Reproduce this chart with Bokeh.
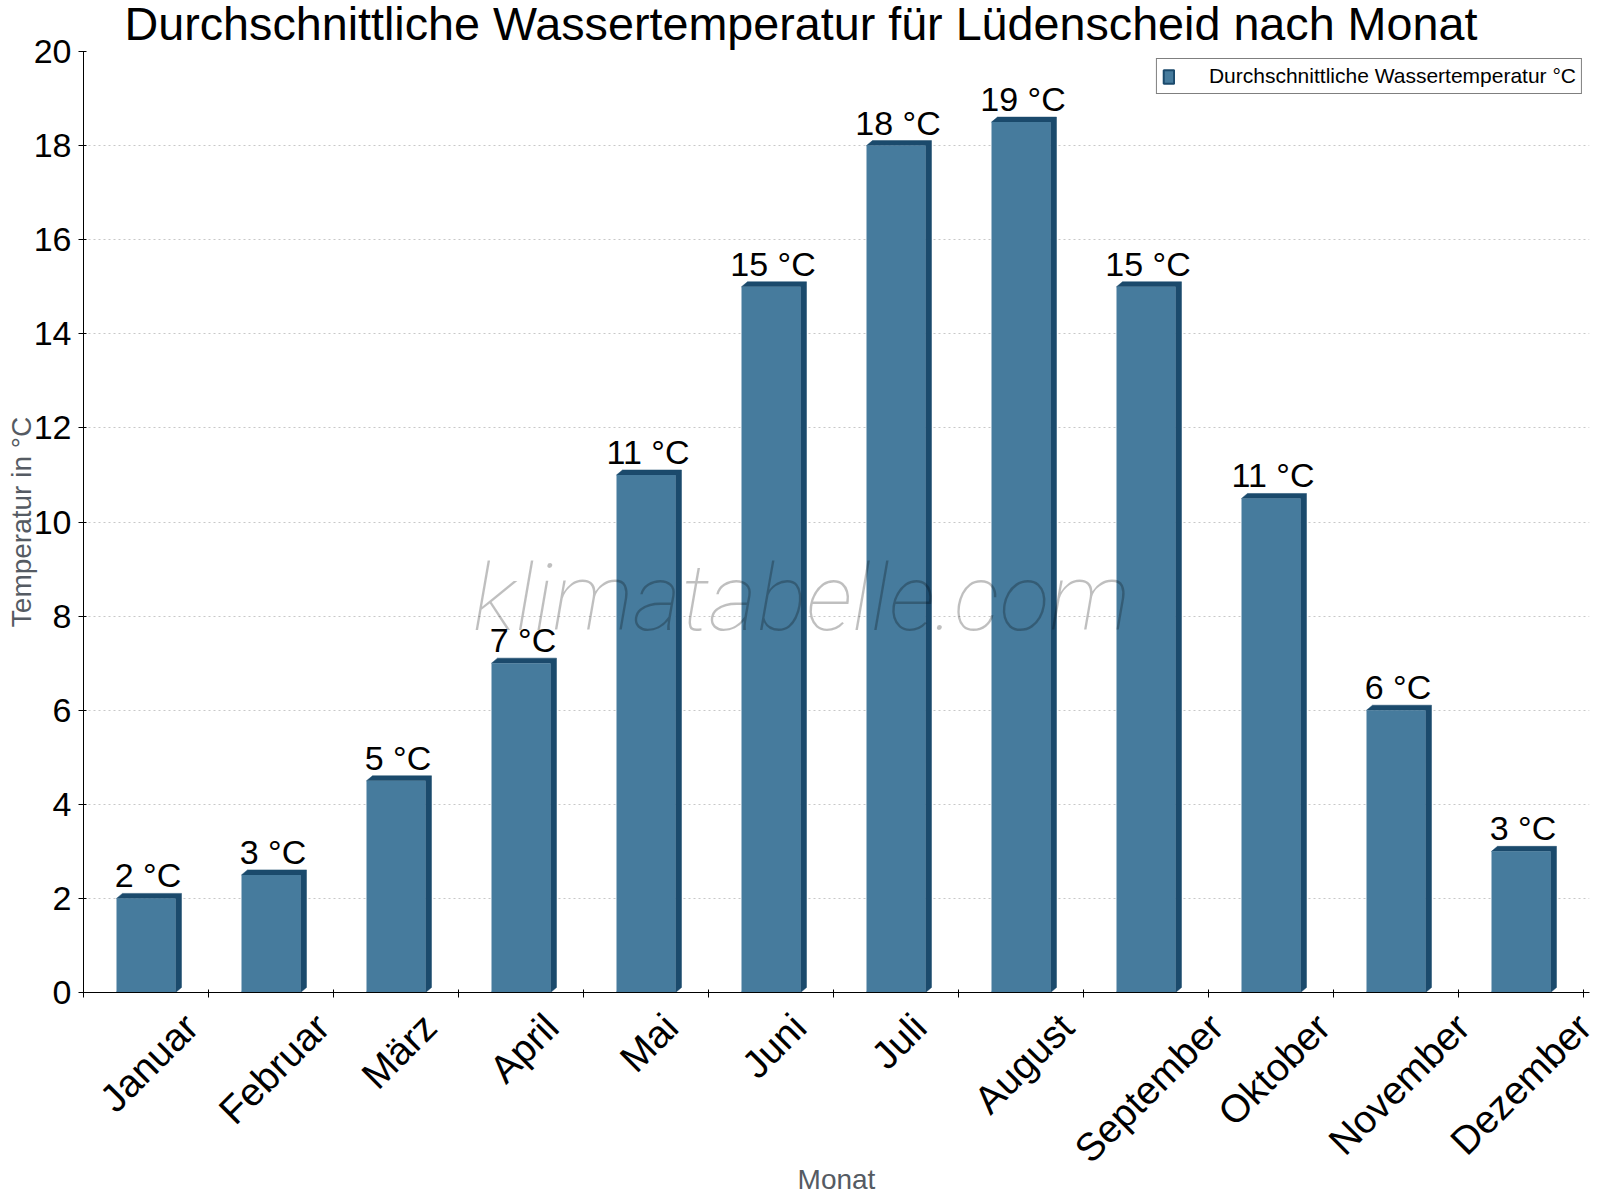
import math
from bokeh.plotting import figure
from bokeh.models import (ColumnDataSource, FixedTicker, Range1d, Label, Legend,
                          LegendItem)
from bokeh.embed import file_html
from bokeh.resources import INLINE
from bokeh.core.properties import value

# ---------------- data ----------------
months = ["Januar", "Februar", "März", "April", "Mai", "Juni", "Juli",
          "August", "September", "Oktober", "November", "Dezember"]
water_temp = [2.0, 2.5, 4.5, 7.0, 11.0, 15.0, 18.0, 18.5, 15.0, 10.5, 6.0, 3.0]
value_labels = ["2 °C", "3 °C", "5 °C", "7 °C", "11 °C", "15 °C", "18 °C",
                "19 °C", "15 °C", "11 °C", "6 °C", "3 °C"]
y_ticks = [0, 2, 4, 6, 8, 10, 12, 14, 16, 18, 20]
series_name = "Durchschnittliche Wassertemperatur °C"
title_text = "Durchschnittliche Wassertemperatur für Lüdenscheid nach Monat"

# ---------------- layout / style ----------------
W, H = 1600, 1200
LEFT, RIGHT, TOP, BOTTOM = 84, 16, 53, 205
EXTRA = 6      # px the frame reaches past the last category (room for a label anchor)
FRONT = "#467b9d"
SIDE = "#1b4a6c"
FONT = "Liberation Sans"
XFONT = 39   # px, month labels

# approximate advance widths (em) of Liberation Sans / Arial, used to centre
# the rotated month labels under their bars
char_w = {'J': .5, 'a': .556, 'n': .556, 'u': .556, 'r': .333, 'F': .611,
          'e': .556, 'b': .556, 'M': .833, 'ä': .556, 'z': .5, 'A': .667,
          'p': .556, 'i': .222, 'l': .222, 'g': .556, 's': .5, 't': .278,
          'S': .667, 'm': .833, 'O': .778, 'k': .5, 'o': .556, 'N': .722,
          'v': .5, 'D': .722}

n = len(months)
y_max = y_ticks[-1]
frame_w = W - LEFT - RIGHT
frame_h = H - TOP - BOTTOM
px_x = n / frame_w          # data units per pixel (x)
px_y = y_max / frame_h      # data units per pixel (y)

p = figure(width=W, height=H, output_backend="svg", toolbar_location=None,
           x_range=Range1d(0, n + EXTRA * px_x), y_range=Range1d(0, y_max),
           min_border_left=LEFT, min_border_right=RIGHT - EXTRA,
           min_border_top=TOP, min_border_bottom=BOTTOM,
           background_fill_color="white", border_fill_color="white")
p.margin = (-3, 0, 0, -1)
p.outline_line_color = None

xc = [i + 0.5 for i in range(n)]
bw = 0.472

# legend proxy (zero height, hidden under the bars / axis)
proxy = p.vbar(x=xc, top=[0] * n, width=bw, fill_color=FRONT,
               line_color=SIDE, line_width=2)

# ---------------- bars (pseudo 3D) ----------------
dx = 6 * px_x
dy = 5 * px_y
xs, ys = [], []
for x, t in zip(xc, water_temp):
    l, r = x - bw / 2, x + bw / 2
    xs.append([l, l + dx, r + dx, r + dx, r, r])
    ys.append([t, t + dy, t + dy, dy, 0, t])
p.patches(xs=xs, ys=ys, fill_color=SIDE, line_color=SIDE, line_width=0.5)
src = ColumnDataSource(data=dict(x=xc, top=water_temp,
                                 ly=[t + 13 * px_y for t in water_temp],
                                 lab=value_labels))
p.vbar(x="x", top="top", width=bw, source=src, fill_color=FRONT, line_color=None)

p.text(x="x", y="ly", text="lab", source=src, x_offset=2, y_offset=-10,
       text_align="center", text_baseline="alphabetic",
       text_font=value(FONT), text_font_size="34px", text_color="black")

# ---------------- legend ----------------
legend = Legend(items=[LegendItem(label=series_name, renderers=[proxy])],
                location="top_right", border_line_color="black",
                border_line_width=1, background_fill_color="white",
                background_fill_alpha=1.0, label_text_font=FONT,
                label_text_font_size="21px", label_text_color="black",
                glyph_width=13, glyph_height=17, padding=5,
                label_standoff=34, margin=7, spacing=0)
p.add_layout(legend)

# ---------------- watermark ----------------
wm = Label(x=(802 - LEFT) * px_x, y=(H - BOTTOM - 601) * px_y,
           text="klimatabelle.com", text_align="center",
           text_baseline="alphabetic", text_font="Roboto Thin",
           text_font_style="italic", text_font_size="93px",
           text_color="black", text_alpha=0.25)
p.add_layout(wm)

# ---------------- title ----------------
p.title.text = title_text
p.title.text_font = FONT
p.title.text_font_size = "46.7px"
p.title.text_font_style = "normal"
p.title.text_color = "black"
p.title.align = "left"
p.title.vertical_align = "top"
p.title.offset = 41
p.title.standoff = 0

# ---------------- axes ----------------
p.xgrid.visible = False
p.ygrid.grid_line_color = "#c8c8c8"
p.ygrid.grid_line_dash = "2 3"
p.ygrid.grid_line_width = 1

p.axis.axis_line_color = "black"
p.axis.major_label_text_color = "black"
p.axis.major_label_text_font = FONT
p.axis.axis_label_text_font = FONT
p.axis.axis_label_text_font_style = "normal"
p.axis.axis_label_text_color = "#555b63"

p.yaxis.ticker = FixedTicker(ticks=y_ticks)
p.yaxis.major_label_text_font_size = "34px"
p.yaxis.major_tick_out = 5
p.yaxis.major_tick_in = 3
p.yaxis.major_tick_line_color = "black"
p.yaxis.minor_tick_line_color = None
p.yaxis.major_label_standoff = 7
p.yaxis.axis_label = "Temperatur in °C"
p.yaxis.axis_label_text_font_size = "28px"
p.yaxis.axis_label_standoff = -6

# month labels: rotated 45°, right end anchored so that each label is centred
label_ticks = []
for i, m in enumerate(months):
    L = sum(char_w.get(c, 0.55) for c in m) * XFONT
    label_ticks.append(i + 0.5 + (L * math.cos(math.pi / 4) / 2 + 3) * px_x)
p.xaxis.ticker = FixedTicker(ticks=label_ticks, minor_ticks=list(range(n + 1)))
p.xaxis.major_label_overrides = {t: m for t, m in zip(label_ticks, months)}
p.xaxis.major_tick_in = 0
p.xaxis.major_tick_out = 0
p.xaxis.minor_tick_in = 3
p.xaxis.minor_tick_out = 5
p.xaxis.minor_tick_line_color = "black"
p.xaxis.major_label_orientation = math.pi / 4
p.xaxis.major_label_text_font_size = f"{XFONT}px"
p.xaxis.major_label_standoff = 23
p.xaxis.axis_label = "Monat"
p.xaxis.axis_label_text_font_size = "28px"
p.xaxis.axis_label_standoff = -25

open("out.html", "w").write(file_html(p, INLINE))
